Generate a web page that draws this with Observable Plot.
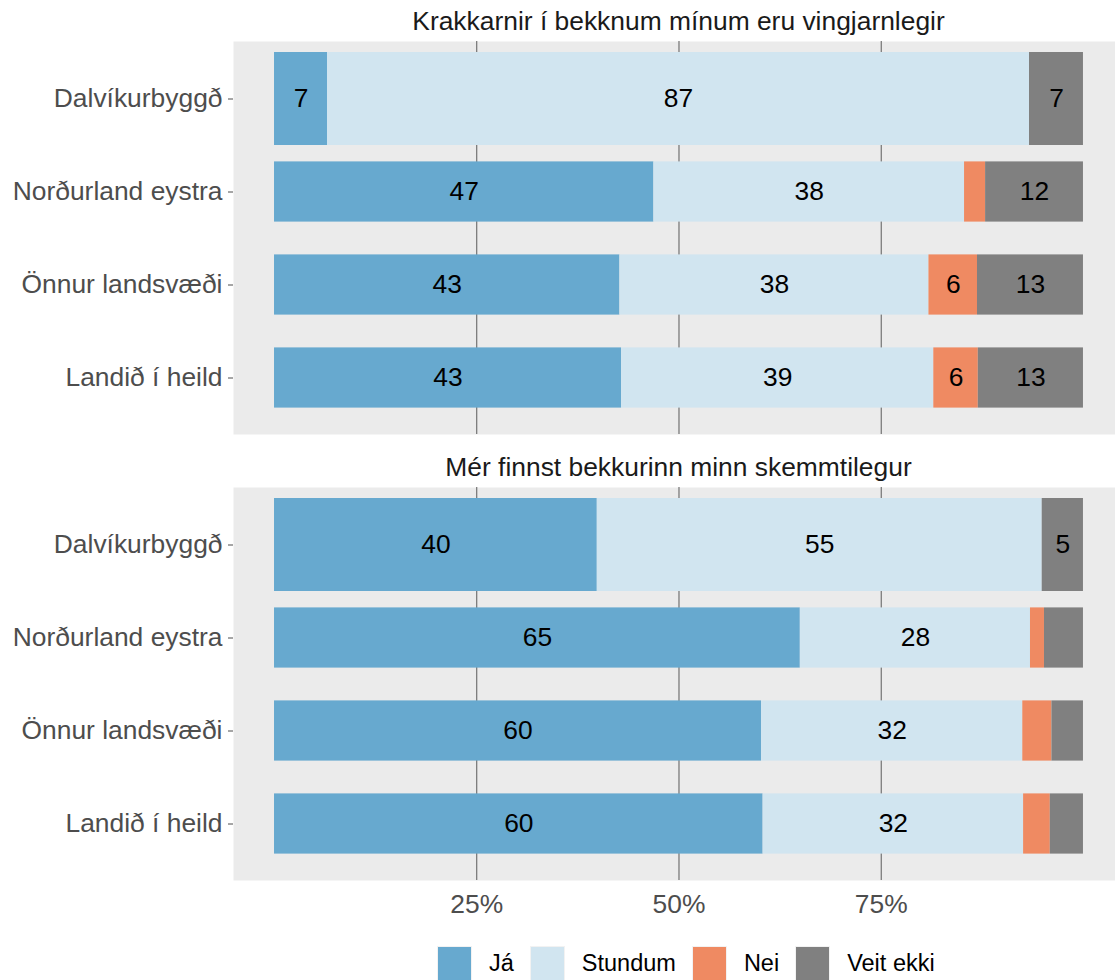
<!DOCTYPE html>
<html>
<head>
<meta charset="utf-8">
<script src="https://cdn.jsdelivr.net/npm/d3@7"></script>
<script src="https://cdn.jsdelivr.net/npm/@observablehq/plot@0.6"></script>
<style>
html, body { margin: 0; padding: 0; background: #fff; overflow: hidden; }
body { font-family: "Liberation Sans", Arial, sans-serif; }
#chart svg { display: block; }
#legend { display: flex; align-items: center; padding-left: 437px; margin-top: 16px; height: 35px; }
.item { display: flex; align-items: center; margin-right: 16px; }
.sw { width: 33px; height: 33px; border: 1px solid #f2f2f2; }
.lab { margin-left: 17px; font-size: 23.5px; color: #000; line-height: 1; }
</style>
</head>
<body>
<div id="chart"></div>
<div id="legend"></div>
<script>
// ---- data ----
const questions = ["Krakkarnir í bekknum mínum eru vingjarnlegir", "Mér finnst bekkurinn minn skemmtilegur"];
const regions = ["Dalvíkurbyggð", "Norðurland eystra", "Önnur landsvæði", "Landið í heild"];
const answers = ["Já", "Stundum", "Nei", "Veit ekki"];
const answerColors = ["#67a9cf", "#d1e5f0", "#ef8a62", "#808080"];
const xTicks = [25, 50, 75];

// Question 1 (values per region, %)
const q1Ja       = [6.55, 46.9, 42.7, 42.9];
const q1Stundum  = [86.78, 38.4, 38.2, 38.6];
const q1Nei      = [0, 2.6, 6.0, 5.5];
const q1VeitEkki = [6.67, 12.1, 13.1, 13.0];
// Question 2
const q2Ja       = [39.9, 65.0, 60.2, 60.4];
const q2Stundum  = [55.0, 28.45, 32.3, 32.2];
const q2Nei      = [0, 1.73, 3.6, 3.3];
const q2VeitEkki = [5.1, 4.82, 3.9, 4.1];

const series = [
  [q1Ja, q1Stundum, q1Nei, q1VeitEkki],
  [q2Ja, q2Stundum, q2Nei, q2VeitEkki]
];

const data = [];
questions.forEach((q, qi) => {
  regions.forEach((r, ri) => {
    answers.forEach((a, ai) => {
      data.push({question: q, region: r, answer: a, value: series[qi][ai][ri]});
    });
  });
});
const thick = data.filter(d => d.region === regions[0]);
const thin = data.filter(d => d.region !== regions[0]);

const FONT = '"Liberation Sans", Arial, sans-serif';

const chart = Plot.plot({
  width: 1115,
  height: 930,
  marginLeft: 233,
  marginRight: 0,
  marginTop: 41,
  marginBottom: 49,
  style: {fontFamily: FONT, fontSize: "26.4px", background: "white"},
  x: {domain: [-5.07, 103.96], label: null},
  y: {domain: regions, paddingInner: 0, paddingOuter: 0.1, label: null},
  fy: {domain: questions, paddingInner: 0.1187, paddingOuter: 0, axis: null, label: null},
  color: {domain: answers, range: answerColors},
  marks: [
    Plot.frame({fill: "#ebebeb", stroke: "none"}),
    Plot.ruleX(xTicks, {stroke: "#5a5a5a", strokeWidth: 1}),
    Plot.barX(thick, Plot.stackX({x: "value", y: "region", fy: "question", fill: "answer", insetTop: 0, insetBottom: 0})),
    Plot.barX(thin, Plot.stackX({x: "value", y: "region", fy: "question", fill: "answer", insetTop: 16.4, insetBottom: 16.4})),
    Plot.text(data, Plot.stackX({
      x: "value", y: "region", fy: "question", z: "answer",
      text: d => d.value >= 5 ? String(Math.round(d.value)) : null,
      fill: "black", fontSize: 26.4
    })),
    Plot.text(questions, {fy: d => d, text: d => d, frameAnchor: "top", lineAnchor: "middle", dy: -20, dx: 4, fontSize: 26.4, fill: "#1a1a1a"}),
    Plot.axisY({tickSize: 5, tickPadding: 6, color: "#4d4d4d", fontSize: 26.4}),
    Plot.axisX({ticks: xTicks, tickFormat: d => d + "%", tickSize: 0, tickPadding: 14, color: "#4d4d4d", fontSize: 26.4})
  ]
});
document.getElementById("chart").appendChild(chart);

const legend = document.getElementById("legend");
answers.forEach((a, i) => {
  const item = document.createElement("div");
  item.className = "item";
  const sw = document.createElement("div");
  sw.className = "sw";
  sw.style.background = answerColors[i];
  const lab = document.createElement("span");
  lab.className = "lab";
  lab.textContent = a;
  item.appendChild(sw);
  item.appendChild(lab);
  legend.appendChild(item);
});
</script>
</body>
</html>
